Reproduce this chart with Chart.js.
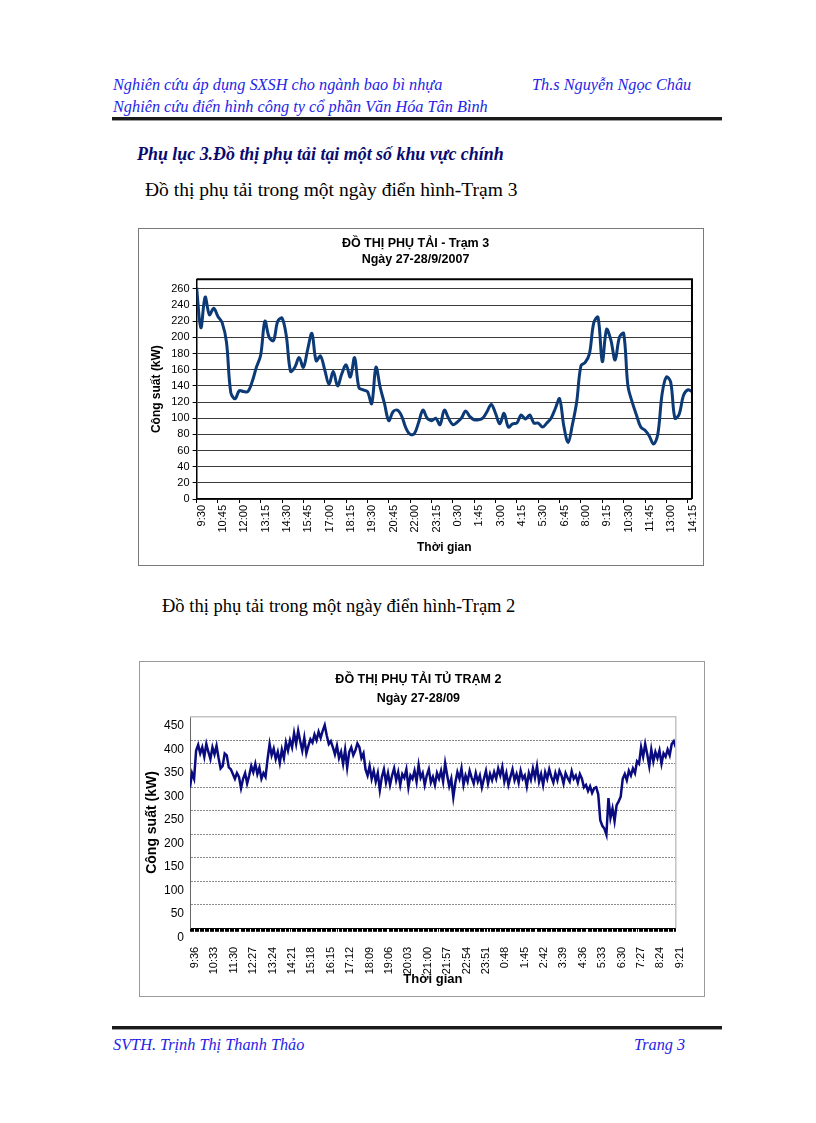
<!DOCTYPE html>
<html lang="vi">
<head>
<meta charset="utf-8">
<title>Phụ lục 3 - Đồ thị phụ tải</title>
<script src="https://cdn.jsdelivr.net/npm/chart.js@4.4.1/dist/chart.umd.min.js"></script>
<style>
  html, body { margin: 0; padding: 0; background: #fff; }
  body { width: 816px; height: 1123px; position: relative; overflow: hidden;
         font-family: "Liberation Serif", "Times New Roman", serif; }
  .t { position: absolute; white-space: nowrap; line-height: 20px; }
  .hdr { color: #1f1fe6; font-style: italic; font-size: 16.3px; }
  .rule { position: absolute; left: 112px; width: 610px; height: 3px; background: #1a1a1a; border-bottom: 1px solid #9a9a9a; }
  .box { position: absolute; background: #fff; }
  .box canvas { display: block; }
</style>
</head>
<body>

<div class="t hdr" style="left:113px; top:75px;">Nghiên cứu áp dụng SXSH cho ngành bao bì nhựa</div>
<div class="t hdr" style="left:532px; top:75px;">Th.s Nguyễn Ngọc Châu</div>
<div class="t hdr" style="left:113px; top:97px;">Nghiên cứu điển hình công ty cổ phần Văn Hóa Tân Bình</div>
<div class="rule" style="top:117px;"></div>

<div class="t" style="left:137px; top:144px; font-size:17.9px; font-weight:bold; font-style:italic; color:#0a0a6e;">Phụ lục 3.Đồ thị phụ tải tại một số khu vực chính</div>
<div class="t" style="left:145px; top:180px; font-size:19.5px; color:#000;">Đồ thị phụ tải trong một ngày điển hình-Trạm 3</div>

<div class="box" style="left:138px; top:228px; border:1px solid #7a7a7a;">
  <canvas id="tram3Chart" width="564" height="336"></canvas>
</div>

<div class="t" style="left:162px; top:596px; font-size:18.5px; color:#000;">Đồ thị phụ tải trong một ngày điển hình-Trạm 2</div>

<div class="box" style="left:139px; top:661px; border:1px solid #9a9a9a;">
  <canvas id="tram2Chart" width="564" height="334"></canvas>
</div>

<div class="rule" style="top:1026px;"></div>
<div class="t hdr" style="left:113px; top:1035px;">SVTH. Trịnh Thị Thanh Thảo</div>
<div class="t hdr" style="left:634px; top:1035px;">Trang 3</div>

<script>
// Trạm 3: one value every 15 minutes, starting 9:30 (27/9) to 14:30 (28/9)
const tram3TickLabels = ['9:30','10:45','12:00','13:15','14:30','15:45','17:00','18:15','19:30','20:45',
  '22:00','23:15','0:30','1:45','3:00','4:15','5:30','6:45','8:00','9:15','10:30','11:45','13:00','14:15'];
const tram3Load = [
  262, 212, 250, 228, 236, 226, 218, 194, 132, 124,
  134, 133, 133, 145, 163, 178, 220, 200, 196, 220,
  224, 202, 158, 163, 175, 163, 185, 205, 171, 177,
  160, 142, 158, 140, 155, 166, 151, 175, 138, 135,
  133, 118, 163, 138, 118, 97, 108, 110, 103, 88,
  80, 81, 95, 110, 100, 97, 100, 92, 110, 100,
  92, 95, 100, 109, 102, 98, 98, 100, 108, 117,
  106, 93, 106, 89, 93, 94, 104, 99, 104, 94,
  94, 89, 94, 100, 112, 124, 90, 70, 92, 120,
  165, 169, 180, 218, 225, 170, 210, 197, 172, 200,
  205, 140, 120, 104, 89, 85, 78, 68, 80, 130,
  151, 145, 100, 105, 128, 135, 133
];

// Trạm 2: tick labels every 57 minutes (19 steps of 3 minutes), values read every 6 minutes
const tram2TickLabels = ['9:36','10:33','11:30','12:27','13:24','14:21','15:18','16:15','17:12','18:09',
  '19:06','20:03','21:00','21:57','22:54','23:51','0:48','1:45','2:42','3:39','4:36','5:33','6:30',
  '7:27','8:24','9:21'];
const tram2Load = [
  300, 330, 318, 378, 390, 372, 385, 365, 392, 375,
  360, 385, 370, 388, 362, 340, 345, 372, 368, 342,
  338, 328, 318, 330, 322, 298, 318, 330, 308, 325,
  345, 332, 350, 328, 342, 318, 330, 322, 360, 392,
  368, 382, 360, 375, 352, 380, 362, 395, 378, 400,
  385, 415, 392, 420, 398, 378, 405, 372, 388, 402,
  395, 412, 400, 418, 405, 420, 432, 410, 392, 398,
  385, 370, 388, 362, 375, 350, 380, 342, 375, 385,
  368, 378, 393, 385, 362, 372, 338, 325, 345, 318,
  335, 312, 330, 294, 322, 338, 310, 330, 305, 325,
  340, 315, 332, 305, 328, 320, 338, 300, 325, 318,
  335, 312, 347, 320, 330, 305, 325, 338, 310, 322,
  305, 330, 318, 335, 312, 351, 325, 302, 318, 279,
  310, 332, 318, 340, 305, 325, 312, 335, 320, 308,
  330, 312, 325, 300, 318, 335, 308, 328, 315, 332,
  318, 340, 325, 343, 312, 330, 305, 322, 338, 315,
  328, 310, 335, 318, 325, 302, 330, 316, 340, 320,
  345, 312, 328, 305, 332, 318, 338, 322, 310, 330,
  315, 335, 325, 308, 330, 320, 312, 334, 318, 325,
  310, 328, 318, 300, 305, 292, 302, 288, 298, 300,
  285, 230, 218, 212, 199, 277, 235, 255, 228, 262,
  270, 280, 318, 328, 315, 335, 325, 340, 330, 355,
  350, 385, 365, 392, 370, 345, 380, 355, 375, 362,
  378, 350, 372, 365, 380, 368, 392, 398, 385
];

Chart.defaults.font.family = '"Liberation Sans", Arial, sans-serif';
Chart.defaults.color = '#000';

// draws the frame round the plot area
const plotFrame = {
  id: 'plotFrame',
  afterDraw(chart, args, opts) {
    const { ctx, chartArea: a } = chart;
    ctx.save();
    ctx.strokeStyle = opts.color;
    ctx.lineWidth = opts.width;
    ctx.beginPath();
    ctx.moveTo(a.left, a.top);
    ctx.lineTo(a.right, a.top);
    ctx.lineTo(a.right, a.bottom);
    ctx.stroke();
    ctx.restore();
  }
};

function buildTram3Chart() {
  const ctx = document.getElementById('tram3Chart').getContext('2d');
  new Chart(ctx, {
    type: 'line',
    data: {
      datasets: [{
        data: tram3Load.map((v, i) => ({ x: i, y: v })),
        borderColor: '#0c3a76',
        borderWidth: 3,
        pointRadius: 0,
        tension: 0.35,
        fill: false
      }]
    },
    options: {
      responsive: false,
      animation: false,
      layout: { padding: { top: 6, right: 11, left: 0, bottom: 0 } },
      plugins: {
        legend: { display: false },
        tooltip: { enabled: false },
        title: {
          display: true,
          text: ['ĐỒ THỊ PHỤ TẢI - Trạm 3', 'Ngày 27-28/9/2007'],
          font: { size: 12.5, weight: 'bold', lineHeight: 1.33 },
          padding: { top: 0, bottom: 11 }
        },
        plotFrame: { color: '#000', width: 2 }
      },
      scales: {
        x: {
          type: 'linear',
          min: 0,
          max: tram3Load.length - 1,
          afterBuildTicks: s => { s.ticks = tram3TickLabels.map((_, k) => ({ value: k * 5 })); },
          afterFit: s => { s.height = 66; },
          ticks: {
            autoSkip: false, minRotation: 90, maxRotation: 90, padding: 2, labelOffset: 5,
            font: { size: 11 },
            callback: v => tram3TickLabels[v / 5] ?? ''
          },
          grid: { drawOnChartArea: false, tickLength: 4, color: '#000' },
          border: { color: '#000', width: 1.5 },
          title: {
            display: true, text: 'Thời gian',
            font: { size: 12, weight: 'bold' },
            padding: { top: 0, bottom: 10 }
          }
        },
        y: {
          min: 0,
          max: 272,
          afterFit: s => { s.width = 57.6; },
          ticks: { stepSize: 20, includeBounds: false, padding: 3, font: { size: 11 } },
          grid: { color: '#3a3a3a', lineWidth: 1, tickLength: 4, tickColor: '#000' },
          border: { color: '#000', width: 1.5 },
          title: {
            display: true, text: 'Công suất (kW)',
            font: { size: 12, weight: 'bold' },
            padding: { top: 10, bottom: 0 }
          }
        }
      }
    },
    plugins: [plotFrame]
  });
}

function buildTram2Chart() {
  const lastStep = (tram2Load.length - 1) * 2;
  const ctx = document.getElementById('tram2Chart').getContext('2d');
  new Chart(ctx, {
    type: 'line',
    data: {
      datasets: [{
        data: tram2Load.map((v, i) => ({ x: i * 2, y: v })),
        borderColor: '#0b0b80',
        borderWidth: 2.5,
        pointRadius: 0,
        tension: 0,
        fill: false
      }]
    },
    options: {
      responsive: false,
      animation: false,
      layout: { padding: { top: 8.5, right: 7.3, left: 0, bottom: 0 } },
      plugins: {
        legend: { display: false },
        tooltip: { enabled: false },
        title: {
          display: true,
          text: ['ĐỒ THỊ PHỤ TẢI TỦ TRẠM 2', 'Ngày 27-28/09'],
          font: { size: 12.5, weight: 'bold', lineHeight: 1.52 },
          padding: { top: 0, bottom: 8.2 }
        },
        plotFrame: { color: '#c4c4c4', width: 1.5 }
      },
      scales: {
        x: {
          type: 'linear',
          min: 0,
          max: lastStep,
          afterBuildTicks: s => {
            const t = [];
            for (let v = 0; v <= lastStep; v++) t.push({ value: v });
            s.ticks = t;
          },
          afterFit: s => { s.height = 67.7; },
          ticks: {
            autoSkip: false, minRotation: 90, maxRotation: 90, padding: 15, labelOffset: 5,
            font: { size: 11 },
            callback: v => (v % 19 === 0 ? tram2TickLabels[v / 19] : '')
          },
          grid: {
            drawOnChartArea: false, tickLength: 3.5, tickWidth: 1,
            tickColor: c => (c.tick && c.tick.value % 5 === 4 ? 'rgba(0,0,0,0)' : '#000')
          },
          border: { color: '#000', width: 1 },
          title: {
            display: true, text: 'Thời gian',
            font: { size: 13, weight: 'bold' },
            padding: { top: 0, bottom: 9 }
          }
        },
        y: {
          min: 0,
          max: 450,
          afterFit: s => { s.width = 50; },
          ticks: { stepSize: 50, padding: 6, labelOffset: 9, font: { size: 12 } },
          grid: { color: '#8a8a8a', lineWidth: 1, drawTicks: false },
          border: { color: '#666', width: 1, dash: [2, 1] },
          title: {
            display: true, text: 'Công suất (kW)',
            font: { size: 14, weight: 'bold' },
            padding: { top: 4, bottom: 0 }
          }
        }
      }
    },
    plugins: [plotFrame]
  });
}

buildTram3Chart();
buildTram2Chart();
</script>
</body>
</html>
